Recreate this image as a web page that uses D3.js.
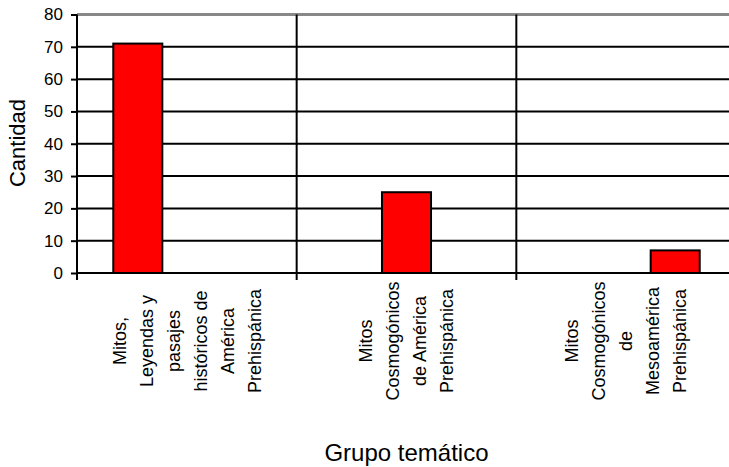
<!DOCTYPE html>
<html>
<head>
<meta charset="utf-8">
<script src="https://cdn.jsdelivr.net/npm/d3@7"></script>
<style>
  body { margin: 0; background: #fff; }
  text { font-family: Arial, "Liberation Sans", sans-serif; fill: #000; }
</style>
</head>
<body>
<div id="chart"></div>
<script>
// categories (each label split into lines the way they wrap)
var categories = ["g1", "g2", "g3"];
var categoryLines = [
    ["Mitos,", "Leyendas y", "pasajes", "históricos de", "América", "Prehispánica"],
    ["Mitos", "Cosmogónicos", "de América", "Prehispánica"],
    ["Mitos", "Cosmogónicos", "de", "Mesoamérica", "Prehispánica"]
];
// one series per group, only one non-zero value each
var seriesNames = ["s1", "s2", "s3"];
var s1 = [71, 0, 0];
var s2 = [0, 25, 0];
var s3 = [0, 0, 7];
var yTicks = [0, 10, 20, 30, 40, 50, 60, 70, 80];

var width = 729, height = 467;
var plot = { left: 77, right: 736, top: 14.5, bottom: 273 };

var svg = d3.select("#chart")
    .append("svg")
    .attr("width", width)
    .attr("height", height);

var x = d3.scaleBand()
    .domain(categories)
    .range([plot.left, plot.right]);

var xSub = d3.scaleBand()
    .domain(seriesNames)
    .range([0, x.bandwidth()])
    .paddingOuter(0.74);

var y = d3.scaleLinear()
    .domain([0, 80])
    .range([plot.bottom, plot.top]);

// horizontal gridlines
svg.append("g")
    .selectAll("line")
    .data(yTicks)
    .enter()
    .append("line")
    .attr("x1", plot.left)
    .attr("x2", width)
    .attr("y1", function (d) { return y(d) })
    .attr("y2", function (d) { return y(d) })
    .attr("stroke", function (d) { return d == 80 ? "#888888" : "#000000" })
    .attr("stroke-width", function (d) { return d == 80 ? 3 : 2 });

// vertical separators between groups (also tick marks on x axis)
svg.append("g")
    .selectAll("line")
    .data(categories.slice(1))
    .enter()
    .append("line")
    .attr("x1", function (d) { return x(d) })
    .attr("x2", function (d) { return x(d) })
    .attr("y1", plot.top)
    .attr("y2", plot.bottom + 7)
    .attr("stroke", "#000")
    .attr("stroke-width", 2);

// Y axis
var yAxis = svg.append("g")
    .attr("transform", "translate(" + plot.left + ",0)")
    .call(d3.axisLeft(y).tickValues(yTicks).tickSize(6).tickPadding(8));
yAxis.select(".domain").remove();
yAxis.selectAll(".tick line").attr("stroke", "#000").attr("stroke-width", 2);
yAxis.selectAll(".tick text")
    .attr("font-size", 17)
    .attr("font-family", "Arial, 'Liberation Sans', sans-serif");
svg.append("line")
    .attr("x1", plot.left).attr("x2", plot.left)
    .attr("y1", plot.top).attr("y2", plot.bottom + 7)
    .attr("stroke", "#000")
    .attr("stroke-width", 2);

// bars
var series = [s1, s2, s3];
var barData = [];
series.forEach(function (vals, si) {
    vals.forEach(function (v, ci) {
        if (v > 0) barData.push({ cat: categories[ci], ser: seriesNames[si], value: v });
    });
});
svg.append("g")
    .selectAll("rect")
    .data(barData)
    .enter()
    .append("rect")
    .attr("x", function (d) { return x(d.cat) + xSub(d.ser) })
    .attr("y", function (d) { return y(d.value) })
    .attr("width", xSub.bandwidth())
    .attr("height", function (d) { return y(0) - y(d.value) })
    .attr("fill", "#ff0000")
    .attr("stroke", "#000")
    .attr("stroke-width", 2);

// category labels, rotated, one column per line
var lineGap = 27;
var labelY = 341;
categories.forEach(function (c, ci) {
    var lines = categoryLines[ci];
    var cx = x(c) + x.bandwidth() / 2;
    svg.append("g")
        .selectAll("text")
        .data(lines)
        .enter()
        .append("text")
        .attr("transform", function (d, i) {
            var lx = cx + (i - (lines.length - 1) / 2) * lineGap;
            return "translate(" + lx + "," + labelY + ") rotate(-90)";
        })
        .attr("text-anchor", "middle")
        .attr("dy", "0.35em")
        .attr("font-size", 18)
        .text(function (d) { return d });
});

// axis titles
svg.append("text")
    .attr("x", x(categories[1]) + x.bandwidth() / 2)
    .attr("y", 461)
    .attr("text-anchor", "middle")
    .attr("font-size", 24)
    .text("Grupo temático");

svg.append("text")
    .attr("transform", "translate(25,143) rotate(-90)")
    .attr("text-anchor", "middle")
    .attr("font-size", 22)
    .text("Cantidad");
</script>
</body>
</html>
